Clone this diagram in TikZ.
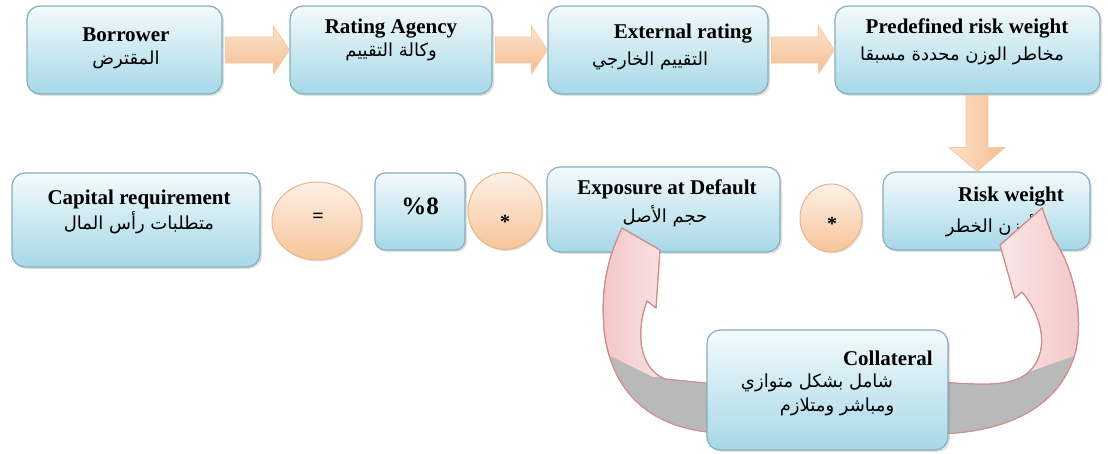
\documentclass[tikz,border=0pt]{standalone}
\usepackage{fontspec}
\setmainfont{Liberation Serif}
\newfontfamily\arabicfont[Script=Arabic]{DejaVu Sans}
\TeXXeTstate=1
\usetikzlibrary{calc,shadows,shapes.geometric}

\definecolor{boxtop}{HTML}{F3FAFC}
\definecolor{boxbot}{HTML}{A6D8E7}
\definecolor{boxline}{HTML}{86AEBD}
\definecolor{ctop}{HTML}{FDF1E8}
\definecolor{cbot}{HTML}{F7C497}
\definecolor{cline}{HTML}{E6B58C}
\definecolor{atop}{HTML}{FCE2CC}
\definecolor{abot}{HTML}{F5BD8F}
\definecolor{aline}{HTML}{F2CBA8}
\definecolor{pinkfill}{HTML}{F3C6C6}
\definecolor{pinkline}{HTML}{D4898C}
\definecolor{grayfill}{HTML}{B9B9B9}

\tikzset{
  box/.style={draw=boxline, line width=1.2pt, rounded corners=13pt,
    top color=boxtop, bottom color=boxbot, inner sep=0pt,
    drop shadow={opacity=0.25, shadow xshift=2pt, shadow yshift=-2pt}},
  oval/.style={ellipse, draw=cline, line width=1pt, top color=ctop,
    bottom color=cbot, inner sep=0pt,
    drop shadow={opacity=0.2, shadow xshift=1.5pt, shadow yshift=-1.5pt}},
  en/.style={font=\fontsize{21}{24}\selectfont\bfseries, inner sep=0pt},
  ar/.style={font=\arabicfont\fontsize{18}{21}\selectfont, inner sep=0pt},
  sym/.style={font=\fontsize{20}{22}\selectfont\bfseries, inner sep=0pt},
  harrow/.style={top color=atop, bottom color=abot, draw=aline, line width=.8pt},
  varrow/.style={left color=atop, right color=abot, draw=aline, line width=.8pt},
  lcurve/.style={left color=pinkfill, right color=white, draw=pinkline, line width=1pt},
  rcurve/.style={left color=white, right color=pinkfill, draw=pinkline, line width=1pt},
}

\newcommand\harr[2]{%
  \path[harrow] ($(#1.east)+(3,-13)$) -- ($(#2.west)+(-16,-13)$)
    -- ($(#2.west)+(-16,-24)$) -- ($(#2.west)+(0,0)$)
    -- ($(#2.west)+(-16,24)$) -- ($(#2.west)+(-16,13)$)
    -- ($(#1.east)+(3,13)$) -- cycle;}

\def\lpath{(622,228) -- (660,250) -- (656,308) -- (647,301)
  .. controls (636,330) and (638,368) .. (665,379) -- (725,385) -- (725,433)
  .. controls (660,432) and (612,400) .. (604,330)
  .. controls (601,290) and (606,262) .. (622,228) -- cycle}
\def\rpath{(1042,208) -- (1000,245) -- (1015,298) -- (1022,292)
  .. controls (1047,322) and (1050,362) .. (1020,378)
  .. controls (1000,387) and (975,384) .. (935,382) -- (935,434)
  .. controls (1010,433) and (1062,405) .. (1076,350)
  .. controls (1084,310) and (1072,265) .. (1053,238) -- cycle}

\begin{document}
\begin{tikzpicture}[x=1pt,y=-1pt]
\useasboundingbox (0,0) rectangle (1108,453);
\fill[white] (0,0) rectangle (1108,453);

% top row
\node[box, minimum width=195, minimum height=88] (bor) at (124.5,50) {};
\node[box, minimum width=202, minimum height=88] (rat) at (391,50) {};
\node[box, minimum width=220, minimum height=88] (ext) at (658,50) {};
\node[box, minimum width=265, minimum height=88] (pre) at (967.5,50) {};

\node[en] (bort) at (126,35) {Borrower};
\node[ar] (bora) at (126,60) {\beginR المقترض\endR};
\node[en] (ratt) at (391,29) {Rating Agency};
\node[ar] (rata) at (391,52) {\beginR وكالة التقييم\endR};
\node[en] (extt) at (683,34) {External rating};
\node[ar] (exta) at (650,61) {\beginR التقييم الخارجي\endR};
\node[en] (pret) at (967,28) {Predefined risk weight};
\node[ar] (prea) at (962,56) {\beginR مخاطر الوزن محددة مسبقا\endR};

\harr{bor}{rat}
\harr{rat}{ext}
\harr{ext}{pre}

% second row
\node[box, minimum width=248, minimum height=94] (cap) at (136,220) {};
\node[oval, minimum width=90, minimum height=78] (eq) at (317,221) {};
\node[box, rounded corners=10pt, minimum width=90, minimum height=77] (pct) at (420,211.5) {};
\node[oval, minimum width=74, minimum height=77] (m1) at (505,211) {};
\node[box, minimum width=233, minimum height=85] (ead) at (663.5,209.5) {};
\node[oval, minimum width=62, minimum height=68] (m2) at (831,218) {};
\node[box, minimum width=207, minimum height=78] (rw) at (986.5,211) {};

\coordinate (dx) at (977,0);
\path[varrow] ($(dx |- pre.south)+(-11,1)$) -- ($(dx |- rw.north)+(-11,-24)$)
  -- ($(dx |- rw.north)+(-28,-24)$) -- ($(dx |- rw.north)+(0,0)$)
  -- ($(dx |- rw.north)+(28,-24)$) -- ($(dx |- rw.north)+(11,-24)$)
  -- ($(dx |- pre.south)+(11,1)$) -- cycle;

\node[en] (capt) at (139,199) {Capital requirement};
\node[ar] (capa) at (139,223) {\beginR متطلبات رأس المال\endR};
\node[sym] (eqt) at (318,218) {=};
\node[font=\fontsize{25}{28}\selectfont\bfseries, inner sep=0pt] (pctt) at (420,206) {\%8};
\node[sym] (m1t) at (505,222) {*};
\node[en] (eadt) at (667,189) {Exposure at Default};
\node[ar] (eada) at (665,216) {\beginR حجم الأصل\endR};
\node[sym] (m2t) at (832,224) {*};
\node[en] (rwt) at (1011,197) {Risk weight};
\node[ar] (rwa) at (990,226) {\beginR أوزن الخطر\endR};

% curved arrows from collateral
\path[lcurve] \lpath;
\begin{scope}
  \clip \lpath;
  \fill[grayfill] (598,350) -- (653,377) -- (730,378) -- (730,440) -- (590,440) -- cycle;
\end{scope}
\draw[pinkline, line width=1pt, line join=round] \lpath;

\path[rcurve] \rpath;
\begin{scope}
  \clip \rpath;
  \fill[grayfill] (1015,377) -- (1074,356) -- (1095,445) -- (925,445) -- (925,377) -- cycle;
\end{scope}
\draw[pinkline, line width=1pt, line join=round] \rpath;

% collateral
\node[box, minimum width=241, minimum height=120] (col) at (827.5,390) {};
\node[en, anchor=east] (colt) at (933,358) {Collateral};
\node[ar] (cola1) at (817,383) {\beginR شامل بشكل متوازي\endR};
\node[ar] (cola2) at (837,407) {\beginR ومباشر ومتلازم\endR};
\end{tikzpicture}
\end{document}
